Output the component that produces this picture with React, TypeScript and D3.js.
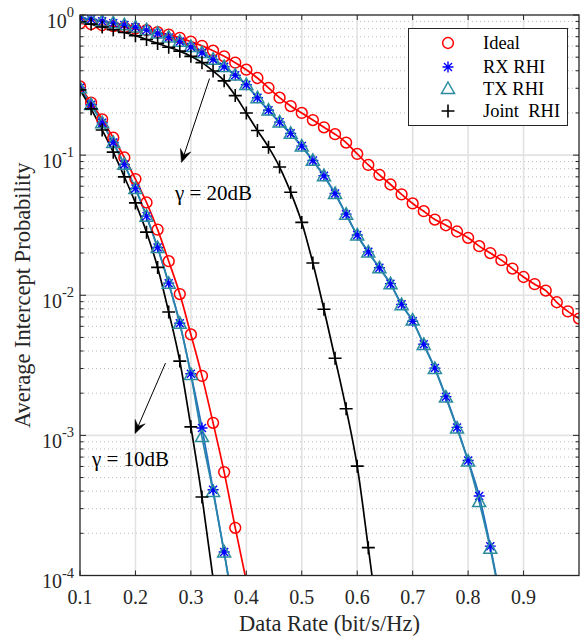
import React from 'react';
import * as d3 from 'd3';

// ---------- data ----------
const rates = [0.10,0.12,0.14,0.16,0.18,0.20,0.22,0.24,0.26,0.28,0.30,0.32,0.34,0.36,0.38,0.40,0.42,0.44,0.46,0.48,0.50,0.52,0.54,0.56,0.58,0.60,0.62,0.64,0.66,0.68,0.70,0.72,0.74,0.76,0.78,0.80,0.82,0.84,0.86,0.88,0.90,0.92,0.94,0.96,0.98,1.00];

// gamma = 20 dB
const ideal20 = [0.871,0.859,0.845,0.832,0.817,0.800,0.780,0.755,0.724,0.687,0.646,0.603,0.556,0.507,0.457,0.407,0.355,0.302,0.257,0.224,0.200,0.178,0.158,0.141,0.123,0.102,0.0851,0.0724,0.0617,0.0525,0.0452,0.0398,0.0347,0.0316,0.0285,0.0257,0.0224,0.0200,0.0178,0.0155,0.0135,0.0120,0.0108,0.00891,0.00767,0.00682];
const rx20 = [0.951,0.933,0.902,0.875,0.847,0.817,0.780,0.738,0.692,0.646,0.592,0.537,0.481,0.427,0.372,0.318,0.257,0.209,0.172,0.143,0.116,0.0916,0.0713,0.0532,0.0379,0.0269,0.0204,0.0157,0.0121,0.00861,0.00653,0.00447,0.00302,0.00189,0.00114,0.000662,0.000369,0.000162,0.0000631];
const tx20 = [0.948,0.930,0.900,0.873,0.846,0.815,0.779,0.737,0.690,0.644,0.590,0.535,0.480,0.425,0.370,0.316,0.255,0.208,0.171,0.142,0.115,0.0910,0.0708,0.0528,0.0376,0.0267,0.0202,0.0156,0.0120,0.00850,0.00660,0.00442,0.00298,0.00186,0.00112,0.000650,0.000334,0.000155,0.0000600];
const joint20 = [0.895,0.861,0.822,0.785,0.750,0.711,0.668,0.627,0.589,0.552,0.507,0.457,0.398,0.339,0.266,0.200,0.150,0.114,0.0822,0.0543,0.0331,0.0170,0.00794,0.00355,0.00155,0.000603,0.000158,0.0000398];

// gamma = 10 dB
const ideal10 = [0.309,0.237,0.180,0.133,0.0962,0.0675,0.0459,0.0294,0.0175,0.0102,0.00525,0.00266,0.00123,0.000547,0.000219,0.0000912];
const rx10 = [0.302,0.229,0.170,0.123,0.0857,0.0578,0.0367,0.0219,0.0122,0.00631,0.00275,0.00113,0.000409,0.000147,0.0000501];
const tx10 = [0.300,0.228,0.169,0.122,0.0852,0.0574,0.0364,0.0217,0.0121,0.00625,0.00270,0.000973,0.000395,0.000146,0.0000495];
const joint10 = [0.292,0.214,0.151,0.105,0.0700,0.0456,0.0282,0.0158,0.00759,0.00339,0.00115,0.000363,0.0000955];

const xTickValues = [0.1,0.2,0.3,0.4,0.5,0.6,0.7,0.8,0.9];
const xTickLabels = ['0.1','0.2','0.3','0.4','0.5','0.6','0.7','0.8','0.9'];
const yDecades = [1, 0.1, 0.01, 0.001, 0.0001];
const yExpLabels = ['0','-1','-2','-3','-4'];
const legendLabels = ['Ideal', 'RX RHI', 'TX RHI', 'Joint  RHI'];

const FONT = "'Liberation Serif','Times New Roman',Times,serif";

type Kind = 'circle' | 'star' | 'tri' | 'plus';

function Marker({ kind, cx, cy, color }: { kind: Kind; cx: number; cy: number; color: string }) {
  if (kind === 'circle') return <circle cx={cx} cy={cy} r={5.4} fill="none" stroke={color} strokeWidth={1.5} />;
  if (kind === 'tri') {
    const p = `${cx},${cy - 7} ${cx + 6.5},${cy + 4.5} ${cx - 6.5},${cy + 4.5}`;
    return <polygon points={p} fill="none" stroke={color} strokeWidth={1.5} />;
  }
  if (kind === 'plus') {
    const s = 6.5;
    return <path d={`M${cx - s},${cy}H${cx + s}M${cx},${cy - s}V${cy + s}`} stroke={color} strokeWidth={1.6} />;
  }
  const s = 5.5, d = 4;
  return (
    <path
      d={`M${cx - s},${cy}H${cx + s}M${cx},${cy - s}V${cy + s}M${cx - d},${cy - d}L${cx + d},${cy + d}M${cx - d},${cy + d}L${cx + d},${cy - d}`}
      stroke={color}
      strokeWidth={1.4}
    />
  );
}

export default function App() {
  const W = 585, H = 638;
  const x = d3.scaleLinear().domain([0.1, 1.0]).range([80, 579]);
  const y = d3.scaleLog().domain([1e-4, 1]).range([575.5, 15]);
  const [x0, x1] = x.range();
  const [yb, yt] = y.range();

  const line = d3
    .line<number>()
    .x((_, i) => x(rates[i]))
    .y((d) => y(d))
    .curve(d3.curveMonotoneX);

  const series = [
    { kind: 'circle' as Kind, mColor: '#ff0000', lColor: '#ff0000', data: [ideal20, ideal10] },
    { kind: 'star' as Kind, mColor: '#0000ff', lColor: '#1f6fc0', data: [rx20, rx10] },
    { kind: 'tri' as Kind, mColor: '#2b8c9e', lColor: '#2a84aa', data: [tx20, tx10] },
    { kind: 'plus' as Kind, mColor: '#000000', lColor: '#000000', data: [joint20, joint10] },
  ];

  const minor: number[] = [];
  for (let e = -4; e < 0; e++) for (let k = 2; k <= 9; k++) minor.push(k * Math.pow(10, e));

  const arrows = [
    { from: [0.3336, 0.352], to: [0.283, 0.0885] },
    { from: [0.2542, 0.00328], to: [0.1992, 0.00103] },
  ];

  const arrowHead = (fx: number, fy: number, tx: number, ty: number) => {
    const ang = Math.atan2(ty - fy, tx - fx);
    const ux = Math.cos(ang), uy = Math.sin(ang);
    const nx = -uy, ny = ux;
    const L = 13, Wd = 5.5, N = 8;
    const bl = [tx - L * ux + Wd * nx, ty - L * uy + Wd * ny];
    const br = [tx - L * ux - Wd * nx, ty - L * uy - Wd * ny];
    const nt = [tx - N * ux, ty - N * uy];
    return { d: `M${tx},${ty}L${bl[0]},${bl[1]}L${nt[0]},${nt[1]}L${br[0]},${br[1]}Z`, notch: nt };
  };

  const legendX = 408.5, legendY = 28.5, legendW = 159, legendH = 97;
  const legendRows = [43, 67, 89, 111];

  return (
    <svg width={W} height={H} style={{ position: 'absolute', left: 0, top: 0, background: '#fff' }} fontFamily={FONT}>
      <defs>
        <clipPath id="plotclip">
          <rect x={x0} y={yt} width={x1 - x0} height={yb - yt} />
        </clipPath>
      </defs>
      <rect x={x0} y={yt} width={x1 - x0} height={yb - yt} fill="#fff" />

      {/* minor horizontal grid */}
      {minor.map((v, i) => (
        <line key={'mg' + i} x1={x0} x2={x1} y1={y(v)} y2={y(v)} stroke="#bdbdbd" strokeWidth={1} strokeDasharray="1,3" />
      ))}
      {/* major grid */}
      {yDecades.slice(1, 4).map((v, i) => (
        <line key={'hg' + i} x1={x0} x2={x1} y1={y(v)} y2={y(v)} stroke="#e2e2e2" strokeWidth={1.6} />
      ))}
      {xTickValues.slice(1).map((v, i) => (
        <line key={'vg' + i} x1={x(v)} x2={x(v)} y1={yt} y2={yb} stroke="#e2e2e2" strokeWidth={1.6} />
      ))}

      {/* lines */}
      <g clipPath="url(#plotclip)" fill="none">
        {series.map((s, si) =>
          s.data.map((arr, ai) => (
            <path key={`l${si}-${ai}`} d={line(arr) || ''} stroke={s.lColor} strokeWidth={1.7} />
          ))
        )}
      </g>
      {/* markers */}
      <g clipPath="url(#plotclip)">
        {series.map((s, si) =>
          s.data.map((arr, ai) =>
            arr.map((v, i) =>
              v >= 1e-4 ? <Marker key={`m${si}-${ai}-${i}`} kind={s.kind} cx={x(rates[i])} cy={y(v)} color={s.mColor} /> : null
            )
          )
        )}
      </g>

      {/* axes box and ticks */}
      <g stroke="#262626" strokeWidth={1}>
        {yDecades.map((v, i) => (
          <g key={'yt' + i}>
            <line x1={x0} x2={x0 + 6} y1={y(v)} y2={y(v)} />
            <line x1={x1} x2={x1 - 6} y1={y(v)} y2={y(v)} />
          </g>
        ))}
        {minor.map((v, i) => (
          <g key={'ymt' + i}>
            <line x1={x0} x2={x0 + 3.5} y1={y(v)} y2={y(v)} />
            <line x1={x1} x2={x1 - 3.5} y1={y(v)} y2={y(v)} />
          </g>
        ))}
        {xTickValues.map((v, i) => (
          <g key={'xt' + i}>
            <line x1={x(v)} x2={x(v)} y1={yb} y2={yb - 5} />
            <line x1={x(v)} x2={x(v)} y1={yt} y2={yt + 5} />
          </g>
        ))}
      </g>
      <rect x={x0} y={yt} width={x1 - x0} height={yb - yt} fill="none" stroke="#262626" strokeWidth={1.3} />

      {/* tick labels */}
      {xTickValues.map((v, i) => (
        <text key={'xl' + i} x={x(v)} y={604} textAnchor="middle" fontSize={20} fill="#262626">
          {xTickLabels[i]}
        </text>
      ))}
      {yDecades.map((v, i) => (
        <text key={'yl' + i} x={74} y={y(v) + 12.5} textAnchor="end" fontSize={20} fill="#262626">
          10
          <tspan dy={-10.5} fontSize={14.5}>
            {yExpLabels[i]}
          </tspan>
        </text>
      ))}

      {/* axis titles */}
      <text x={(x0 + x1) / 2} y={631} textAnchor="middle" fontSize={22.5} fill="#262626">
        Data Rate (bit/s/Hz)
      </text>
      <text
        transform={`translate(30,${(yt + yb) / 2}) rotate(-90)`}
        textAnchor="middle"
        fontSize={22.5}
        fill="#262626"
      >
        Average Intercept Probability
      </text>

      {/* annotations */}
      {arrows.map((a, i) => {
        const fx = x(a.from[0]), fy = y(a.from[1]);
        const tx = x(a.to[0]), ty = y(a.to[1]);
        const h = arrowHead(fx, fy, tx, ty);
        return (
          <g key={'ar' + i}>
            <line x1={fx} y1={fy} x2={h.notch[0]} y2={h.notch[1]} stroke="#000" strokeWidth={1} />
            <path d={h.d} fill="#000" stroke="#000" strokeWidth={0.5} />
          </g>
        );
      })}
      <text x={x(0.2713)} y={y(0.0482)} fontSize={21} fill="#000">
        γ = 20dB
      </text>
      <text x={x(0.1216)} y={y(0.000604)} fontSize={21} fill="#000">
        γ = 10dB
      </text>

      {/* legend */}
      <rect x={legendX} y={legendY} width={legendW} height={legendH} fill="#fff" stroke="#262626" strokeWidth={1} />
      {series.map((s, i) => (
        <g key={'lg' + i}>
          <Marker kind={s.kind} cx={448} cy={legendRows[i]} color={s.mColor} />
          <text x={483} y={legendRows[i] + 6} fontSize={18.5} fill="#000" style={{ whiteSpace: 'pre' }}>
            {legendLabels[i]}
          </text>
        </g>
      ))}
    </svg>
  );
}
